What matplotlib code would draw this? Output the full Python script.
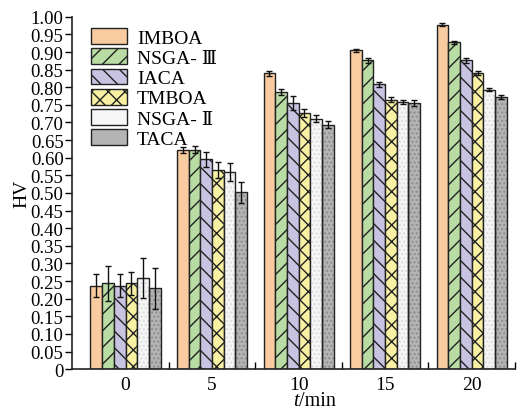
import numpy as np
import matplotlib
matplotlib.use("Agg")
import matplotlib.pyplot as plt
from matplotlib.ticker import FixedLocator
from matplotlib.patches import Patch

plt.rcParams['font.family'] = ['Liberation Serif', 'DejaVu Serif']
plt.rcParams['hatch.linewidth'] = 1.0

times = ["0", "5", "10", "15", "20"]
methods = ["IMBOA", "NSGA- Ⅲ", "IACA", "TMBOA", "NSGA- Ⅱ", "TACA"]

IMBOA = [0.237, 0.622, 0.840, 0.905, 0.978]
NSGA3 = [0.244, 0.622, 0.786, 0.876, 0.928]
IACA = [0.237, 0.595, 0.755, 0.808, 0.876]
TMBOA = [0.244, 0.565, 0.727, 0.765, 0.841]
NSGA2 = [0.258, 0.560, 0.710, 0.758, 0.793]
TACA = [0.229, 0.502, 0.693, 0.756, 0.772]

IMBOA_err = [0.032, 0.008, 0.007, 0.005, 0.003]
NSGA3_err = [0.050, 0.010, 0.008, 0.006, 0.004]
IACA_err = [0.033, 0.020, 0.019, 0.008, 0.006]
TMBOA_err = [0.033, 0.022, 0.010, 0.006, 0.005]
NSGA2_err = [0.056, 0.026, 0.010, 0.005, 0.005]
TACA_err = [0.058, 0.030, 0.010, 0.008, 0.005]

values = [IMBOA, NSGA3, IACA, TMBOA, NSGA2, TACA]
errors = [IMBOA_err, NSGA3_err, IACA_err, TMBOA_err, NSGA2_err, TACA_err]

fills = ["#f9cba0", "#b8dca3", "#c7c3e0", "#f8f0a3", "#f6f6f6", "#b4b4b4"]
hatches = [None, "//", "\\\\", "xx", None, None]
dot_colors = [None, None, None, None, "#dcdcdc", "#8c8c8c"]

fig = plt.figure(figsize=(5.17, 4.14), dpi=100)
ax = fig.add_axes([0.139, 0.106, 0.857, 0.851])

x = np.arange(len(times))
w = 0.135
offsets = (np.arange(6) - 2.5) * w
handles = []
for i in range(6):
    pos = x + offsets[i]
    if dot_colors[i] is not None:
        ax.bar(pos, values[i], w, color=fills[i], edgecolor=dot_colors[i],
               linewidth=0, hatch="....", zorder=2)
        ax.bar(pos, values[i], w, color="none", edgecolor="#222222",
               linewidth=1.0, zorder=3)
    else:
        ax.bar(pos, values[i], w, color=fills[i], edgecolor="#222222",
               linewidth=1.0, hatch=hatches[i], zorder=2)
    ax.errorbar(pos, values[i], yerr=errors[i], fmt="none", ecolor="#111111",
                elinewidth=1.0, capsize=2.5, capthick=1.0, zorder=4)
    handles.append(Patch(facecolor=fills[i], edgecolor="#222222", linewidth=1.0,
                         hatch=hatches[i], label=methods[i]))

ax.set_xlim(-0.62, 4.5)
ax.set_ylim(0, 1.0)
ax.spines['top'].set_visible(False)
ax.spines['right'].set_visible(False)
for s in ['left', 'bottom']:
    ax.spines[s].set_linewidth(1.2)
    ax.spines[s].set_color("#222222")

yt = np.round(np.arange(0, 1.0001, 0.05), 2)
ax.set_yticks(yt)
ax.set_yticklabels(["0" if v == 0 else f"{v:.2f}" for v in yt])
ax.tick_params(axis='y', direction='out', length=5, width=1.0, labelsize=13.5, pad=1)

ax.set_xticks(x)
ax.set_xticklabels(times)
ax.tick_params(axis='x', which='major', length=0, labelsize=14, pad=5)
ax.xaxis.set_minor_locator(FixedLocator(x + 0.5))
ax.tick_params(axis='x', which='minor', direction='in', length=5, width=1.0)

ax.set_ylabel("HV", fontsize=14, labelpad=0)
ax.text(2.0, -0.103, "t", fontsize=14.5, style="italic", ha="right")
ax.text(2.0, -0.103, "/min", fontsize=14.5, ha="left")

ax.legend(handles=handles, loc="upper left", bbox_to_anchor=(0.026, 0.99),
          frameon=False, fontsize=14, handlelength=1.85, handleheight=0.88,
          labelspacing=0.08, handletextpad=0.5, borderaxespad=0.2,
          borderpad=0.2)

fig.savefig("out.png", dpi=100)
